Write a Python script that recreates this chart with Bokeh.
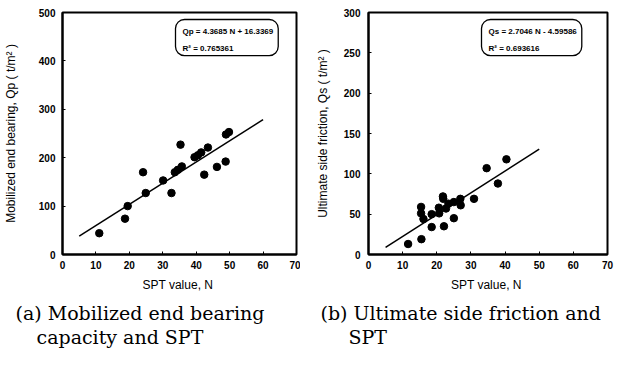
from bokeh.plotting import figure
from bokeh.layouts import row, column
from bokeh.models import Label, Range1d, FixedTicker
from bokeh.core.properties import value
from bokeh.embed import file_html
from bokeh.resources import INLINE

# ---- data ----
qp_n = [11.0, 18.7, 19.5, 24.1, 24.9, 30.1, 32.6, 33.6, 34.5, 35.3, 35.7,
        39.5, 40.5, 41.5, 42.4, 43.5, 46.2, 48.8, 48.9, 49.8]
qp_val = [44, 74, 100, 170, 127, 153, 127, 170, 175, 227, 182,
          201, 205, 211, 165, 221, 181, 192, 248, 253]
qs_n = [11.6, 15.5, 15.4, 15.4, 16.1, 18.5, 18.5, 20.6, 20.7, 21.8, 21.9,
        22.1, 22.7, 23.4, 25.0, 25.0, 26.9, 27.0, 30.9, 34.6, 37.9, 40.4]
qs_val = [13, 19, 59, 51, 44, 50, 34, 58, 51, 72, 69,
          35, 57, 63, 65, 45, 69, 61, 69, 107, 88, 118]
qp_fit = (4.3685, 16.3369)
qs_fit = (2.7046, -4.59586)
qp_fit_n = [5, 60]
qs_fit_n = [5, 50]
x_ticks = [0, 10, 20, 30, 40, 50, 60, 70]
qp_ticks = [0, 100, 200, 300, 400, 500]
qs_ticks = [0, 50, 100, 150, 200, 250, 300]
captions = ["(a) Mobilized end bearing", "capacity and SPT",
            "(b) Ultimate side friction and", "SPT"]

FONT = "Liberation Sans"
SERIF = "DejaVu Serif"
PLOT_H = 303
CAP_H = 50


def make(width, left, right, ymax, yticks, xs, ys, fit, fit_n, ylabel, eq, y_std, y_lab_std):
    p = figure(width=width, height=PLOT_H, output_backend="svg", toolbar_location=None,
               x_range=Range1d(0, 70), y_range=Range1d(0, ymax),
               min_border_left=left, min_border_right=right,
               min_border_top=12, min_border_bottom=49)
    p.outline_line_color = "black"
    p.outline_line_width = 2
    p.xgrid.visible = False
    p.ygrid.visible = False
    p.background_fill_color = "white"
    p.border_fill_color = "white"
    for ax in (p.xaxis[0], p.yaxis[0]):
        ax.axis_line_color = "black"
        ax.axis_line_width = 2
        ax.major_tick_in = 3
        ax.major_tick_out = 0
        ax.minor_tick_line_color = None
        ax.major_tick_line_color = "black"
        ax.major_label_text_font = FONT
        ax.major_label_text_font_size = "10px"
        ax.major_label_text_font_style = "bold"
        ax.major_label_text_color = "black"
        ax.axis_label_text_font = FONT
        ax.axis_label_text_font_size = "12px"
        ax.axis_label_text_font_style = "normal"
        ax.axis_label_text_color = "black"
    p.xaxis[0].ticker = FixedTicker(ticks=x_ticks)
    p.yaxis[0].ticker = FixedTicker(ticks=yticks)
    p.xaxis[0].major_label_standoff = 6
    p.xaxis[0].axis_label_standoff = 6
    p.yaxis[0].major_label_standoff = y_std
    p.yaxis[0].axis_label_standoff = y_lab_std
    p.xaxis[0].axis_label = "SPT value,  N"
    p.yaxis[0].axis_label = ylabel

    a, b = fit
    p.line(fit_n, [a * n + b for n in fit_n], line_color="black", line_width=1.5)
    p.scatter(xs, ys, size=7.5, color="black")

    p.add_layout(Label(x=113, y=235, x_units="screen", y_units="screen", text=eq,
                       text_font=FONT, text_font_size="8px", text_font_style="bold",
                       text_color="black", text_baseline="top", text_align="left",
                       text_line_height=1.9,
                       border_line_color="black", border_line_width=1.3,
                       border_radius=9, padding=(7, 5, 7, 3),
                       background_fill_color="white"))
    return p


p1 = make(300, 56, 4, 500, qp_ticks, qp_n, qp_val, qp_fit, qp_fit_n,
          "Mobilized end bearing, Qp ( t/m² )",
          "Qp = 4.3685 N + 16.3369\nR² = 0.765361", 7, 18)
p2 = make(314, 68, 7, 300, qs_ticks, qs_n, qs_val, qs_fit, qs_fit_n,
          "Ultimate side friction, Qs ( t/m² )",
          "Qs = 2.7046 N - 4.59586\nR² = 0.693616", 8, 11)

# caption strip: pixel-like coordinates (x to the right, y downward)
cap = figure(width=614, height=CAP_H, output_backend="svg", toolbar_location=None,
             x_range=Range1d(0, 614), y_range=Range1d(CAP_H, 0),
             min_border=0, outline_line_color=None)
cap.axis.visible = False
cap.grid.visible = False
cap.background_fill_color = "white"
cap.border_fill_color = "white"
cap.text(x=[15, 36, 320, 348], y=[9, 33, 9, 33], text=captions,
         text_font=value(SERIF), text_font_size="19px", text_color="black",
         text_baseline="alphabetic", text_align="left")

layout = column(row(p1, p2), cap)
open("out.html", "w").write(file_html(layout, INLINE))
